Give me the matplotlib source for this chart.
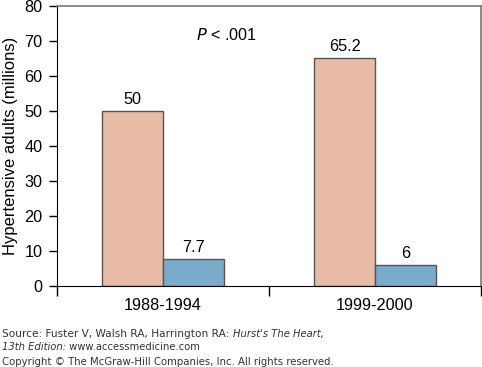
import matplotlib.pyplot as plt
import numpy as np

plt.rcParams["font.family"] = ["Liberation Sans", "DejaVu Sans"]

periods = ["1988-1994", "1999-2000"]
total_hypertensive = [50, 65.2]
controlled = [7.7, 6]
total_labels = ["50", "65.2"]
controlled_labels = ["7.7", "6"]

SALMON = "#E8BBA5"
BLUE = "#7AAACC"
EDGE = "#555555"
FS = 11.7

fig = plt.figure(figsize=(4.82, 3.67), dpi=100)
ax = fig.add_axes([57 / 482, 1 - 286 / 367, 424 / 482, 280 / 367])

x = np.arange(len(periods))
w = 0.286
b1 = ax.bar(x - w / 2, total_hypertensive, w, color=SALMON, edgecolor=EDGE, lw=1.0)
b2 = ax.bar(x + w / 2, controlled, w, color=BLUE, edgecolor=EDGE, lw=1.0)
ax.bar_label(b1, labels=total_labels, padding=3, fontsize=FS)
ax.bar_label(b2, labels=controlled_labels, padding=3, fontsize=FS)

ax.set_xlim(-0.5, 1.5)
ax.set_ylim(0, 80)
ax.set_yticks(range(0, 81, 10))
ax.set_xticks([-0.5, 0.5, 1.5])
ax.set_xticklabels([])
ax.tick_params(axis="x", length=7, direction="out", width=1)
ax.tick_params(axis="y", length=6, direction="out", width=1, labelsize=FS, pad=4.5)
for xi, lab in zip(x, periods):
    ax.text(xi, -5.7, lab, ha="center", va="center", fontsize=FS)

ax.set_ylabel("Hypertensive adults (millions)", fontsize=12, labelpad=4.5)
ax.text(0.3, 71.7, r"$P$ < .001", ha="center", va="center", fontsize=FS)

ax.spines["top"].set_color("#777777")
ax.spines["right"].set_color("#777777")
ax.spines["top"].set_linewidth(1.2)
ax.spines["right"].set_linewidth(1.2)

# source / copyright footer, each part placed after the previous one
SRC_FONT = ["DejaVu Sans"]
SRC_COLOR = "#333333"
renderer = fig.canvas.get_renderer()


def footer_line(y_px, parts):
    xpos = 2
    for txt, italic, size in parts:
        t = fig.text(xpos / 482, 1 - y_px / 367, txt, fontsize=size,
                     family=SRC_FONT, style="italic" if italic else "normal",
                     color=SRC_COLOR, va="center")
        xpos += t.get_window_extent(renderer).width


footer_line(334, [("Source: Fuster V, Walsh RA, Harrington RA: ", False, 7.6),
                  ("Hurst's The Heart,", True, 7.2)])
footer_line(347, [("13th Edition:", True, 7.2), (" www.accessmedicine.com", False, 7.2)])
footer_line(362, [("Copyright \u00a9 The McGraw-Hill Companies, Inc. All rights reserved.",
                   False, 7.3)])

fig.savefig("out.png", dpi=100)
